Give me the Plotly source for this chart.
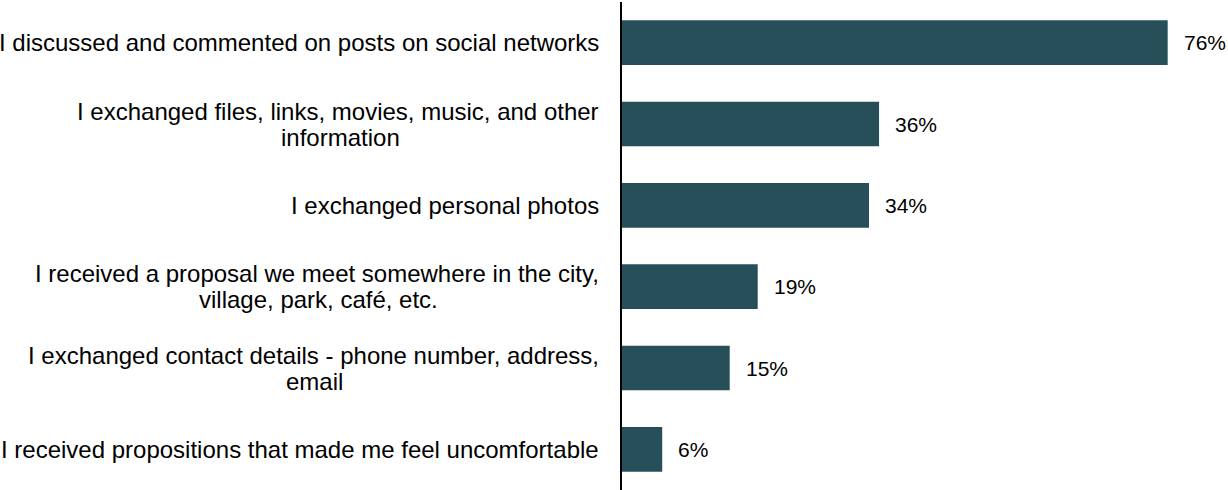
import plotly.graph_objects as go

categories = [
    ["I discussed and commented on posts on social networks"],
    ["I exchanged files, links, movies, music, and other", "information"],
    ["I exchanged personal photos"],
    ["I received a proposal we meet somewhere in the city,", "village, park, café, etc."],
    ["I exchanged contact details - phone number, address,", "email"],
    ["I received propositions that made me feel uncomfortable"],
]
values = [76, 35.8, 34.4, 18.9, 15.0, 5.6]
value_labels = [f"{v:.0f}%" for v in values]

BAR = "#274f59"
FONT = "Liberation Sans, Arial, sans-serif"
FS_CAT = 24
FS_VAL = 21
GAP = 21          # px between label right edge and axis
LINE_STEP = 13    # half line spacing (px) for two-line labels

# Arial / Liberation Sans advance widths (per 1000 em) to centre wrapped lines
W = {" ": 278, ",": 278, "-": 333, ".": 278, "I": 278, "a": 556, "b": 556, "c": 500,
     "d": 556, "e": 556, "f": 278, "g": 556, "h": 556, "i": 222, "j": 222, "k": 500,
     "l": 222, "m": 833, "n": 556, "o": 556, "p": 556, "q": 556, "r": 333, "s": 500,
     "t": 278, "u": 556, "v": 500, "w": 722, "x": 500, "y": 500, "z": 500, "é": 556}


def text_w(s, size):
    return sum(W.get(ch, 556) for ch in s) * size / 1000.0


fig = go.Figure(go.Bar(
    x=values, y=list(range(len(categories))), orientation="h",
    marker=dict(color=BAR, line=dict(width=0)), width=0.55,
    hoverinfo="skip",
))

ann = []
for i, (lines, v, t) in enumerate(zip(categories, values, value_labels)):
    font = dict(family=FONT, size=FS_CAT, color="#000")
    if len(lines) == 1:
        ann.append(dict(x=0, y=i, xref="x", yref="y", text=lines[0], showarrow=False,
                        xanchor="right", yanchor="middle", xshift=-GAP, font=font))
    else:
        w1 = text_w(lines[0], FS_CAT)
        ann.append(dict(x=0, y=i, xref="x", yref="y", text=lines[0], showarrow=False,
                        xanchor="right", yanchor="middle", xshift=-GAP,
                        yshift=LINE_STEP, font=font))
        ann.append(dict(x=0, y=i, xref="x", yref="y", text=lines[1], showarrow=False,
                        xanchor="center", yanchor="middle", xshift=-GAP - w1 / 2,
                        yshift=-LINE_STEP, font=font))
    ann.append(dict(x=v, y=i, xref="x", yref="y", text=t, showarrow=False,
                    xanchor="left", yanchor="middle", xshift=14,
                    font=dict(family=FONT, size=FS_VAL, color="#000")))

fig.update_layout(
    width=1228, height=490,
    margin=dict(l=622, r=0, t=2, b=0),
    plot_bgcolor="white", paper_bgcolor="white",
    showlegend=False,
    xaxis=dict(range=[0, 84.4], showgrid=False, zeroline=False,
               showticklabels=False, showline=False, fixedrange=True),
    yaxis=dict(range=[5.5, -0.5], showgrid=False, zeroline=False,
               showticklabels=False, showline=True, linecolor="#000",
               linewidth=1.5, ticks="", fixedrange=True),
    annotations=ann,
)

fig.write_html("out.html")
